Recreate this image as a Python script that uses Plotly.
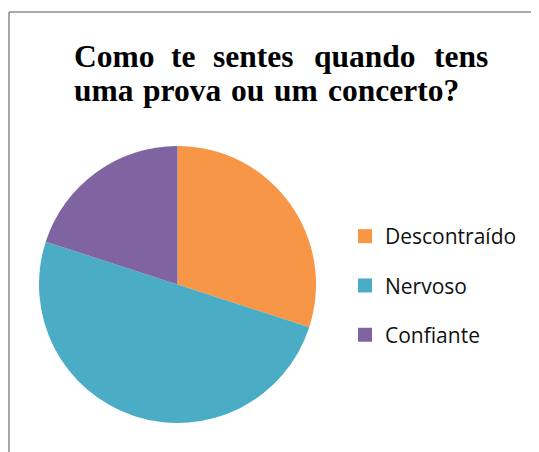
import plotly.graph_objects as go

# chart data
labels = ['Descontraído', 'Nervoso', 'Confiante']
values = [30, 50, 20]
colors = ['#F79646', '#4BACC6', '#8064A2']

title_line1 = ['Como', 'te', 'sentes', 'quando', 'tens']
title_line2 = ['uma', 'prova', 'ou', 'um', 'concerto?']

# the page has an 8px body margin, so the figure is laid out in window pixels minus 8
OFF = 8
W, H = 531, 444


def px(x):
    return (x - OFF) / W


def py(y):
    return 1 - (y - OFF) / H


# left edge (window px) of every title word, the title is justified
line1_x = [73, 170, 212, 313, 433]
line2_x = [73, 142, 230, 273, 327]

fig = go.Figure()

fig.add_trace(go.Pie(
    labels=labels,
    values=values,
    marker=dict(colors=colors, line=dict(color='white', width=0)),
    sort=False,
    direction='clockwise',
    rotation=0,
    textinfo='none',
    hoverinfo='label+percent',
    showlegend=False,
    domain=dict(x=[px(39), px(316)], y=[py(423), py(146)]),
))

# legend entries (square markers, spaced out like the original)
for lab, col in zip(labels, colors):
    fig.add_trace(go.Scatter(
        x=[None], y=[None],
        mode='markers',
        marker=dict(symbol='square', size=14, color=col),
        name=lab,
        legendgroup=lab,
        showlegend=True,
    ))

title_font = dict(family='Liberation Serif, Times New Roman, serif', size=31.5, color='black')
annotations = []
for word, xp in zip(title_line1, line1_x):
    annotations.append(dict(
        text='<b>' + word + '</b>', x=px(xp), y=py(56),
        xref='paper', yref='paper', xanchor='left', yanchor='middle',
        showarrow=False, font=title_font, borderpad=0,
    ))
for word, xp in zip(title_line2, line2_x):
    annotations.append(dict(
        text='<b>' + word + '</b>', x=px(xp), y=py(90),
        xref='paper', yref='paper', xanchor='left', yanchor='middle',
        showarrow=False, font=title_font, borderpad=0,
    ))

# chart-area frame (only the left and top edges are inside the crop)
frame_color = '#8C8C8C'
shapes = [
    dict(type='line', xref='paper', yref='paper', x0=px(9), x1=px(9), y0=-0.1, y1=py(12),
         line=dict(color=frame_color, width=1.5)),
    dict(type='line', xref='paper', yref='paper', x0=px(9), x1=1.1, y0=py(12), y1=py(12),
         line=dict(color=frame_color, width=1.5)),
]

fig.update_layout(
    width=W,
    height=H,
    margin=dict(l=0, r=0, t=0, b=0),
    paper_bgcolor='white',
    plot_bgcolor='white',
    xaxis=dict(visible=False),
    yaxis=dict(visible=False),
    annotations=annotations,
    shapes=shapes,
    legend=dict(
        x=px(345), y=py(216),
        xanchor='left', yanchor='top',
        font=dict(family='Open Sans, Calibri, sans-serif', size=21, color='#111111'),
        tracegroupgap=19,
        itemclick=False,
        bgcolor='rgba(0,0,0,0)',
    ),
)

fig.write_html('out.html')
